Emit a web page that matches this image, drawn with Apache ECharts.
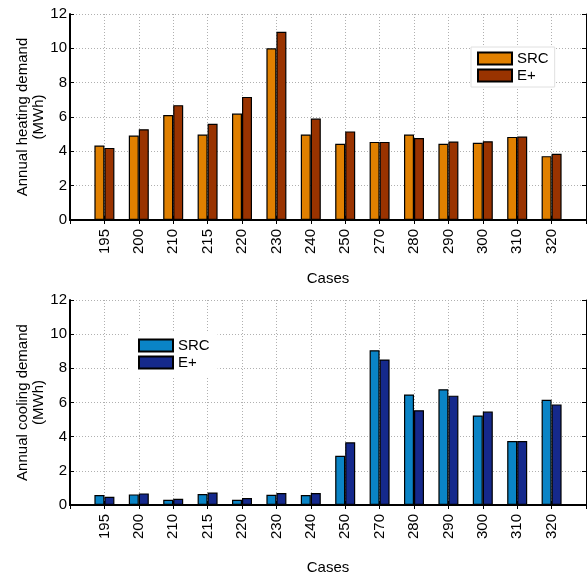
<!DOCTYPE html>
<html><head><meta charset="utf-8">
<script src="https://cdn.jsdelivr.net/npm/echarts@6/dist/echarts.min.js"></script>
<style>html,body{margin:0;padding:0;background:#fff}#c{width:587px;height:576px}</style>
</head><body><div id="c"></div>
<script>
const cases = ['195','200','210','215','220','230','240','250','270','280','290','300','310','320'];
const heatSRC = [4.34,4.92,6.12,4.98,6.20,10.00,4.98,4.44,4.55,4.98,4.44,4.50,4.84,3.72];
const heatEP  = [4.20,5.29,6.69,5.60,7.17,10.97,5.91,5.16,4.55,4.77,4.57,4.59,4.86,3.86];
const coolSRC = [0.58,0.62,0.31,0.64,0.31,0.60,0.58,2.88,9.06,6.47,6.78,5.24,3.75,6.16];
const coolEP  = [0.48,0.68,0.37,0.73,0.41,0.70,0.70,3.67,8.52,5.55,6.40,5.47,3.75,5.89];
const yTicks = [0,2,4,6,8,10,12];

const FONT = 'Liberation Sans';
const pad = a => [null, ...a, null];
const axisCats = ['', ...cases, ''];

function xAxes(gi, gap) {
  return [{
    type:'category', gridIndex:gi, data:axisCats, boundaryGap:false, position:'bottom',
    axisLine:{lineStyle:{color:'#000', width:2}},
    axisTick:{show:true, inside:true, length:4, interval:0, lineStyle:{color:'#000'}},
    axisLabel:{interval:0, rotate:90, color:'#000', fontSize:15, fontFamily:FONT, margin:9},
    splitLine:{show:true, interval:0, lineStyle:{color:'#b0b0b0', type:[1,2], width:1}},
    name:'Cases', nameLocation:'middle', nameGap:gap, nameMoveOverlap:false,
    nameTextStyle:{color:'#000', fontSize:15, fontFamily:FONT}
  },{
    type:'category', gridIndex:gi, data:axisCats, boundaryGap:false, position:'top',
    axisLine:{lineStyle:{color:'#000', width:1}},
    axisTick:{show:true, inside:true, length:4, interval:0, lineStyle:{color:'#000'}},
    axisLabel:{show:false}, splitLine:{show:false}
  }];
}
function yAxes(gi, name) {
  return [{
    type:'value', gridIndex:gi, min:yTicks[0], max:yTicks[yTicks.length-1], interval:2, position:'left',
    axisLine:{show:true, lineStyle:{color:'#000', width:2}},
    axisTick:{show:true, inside:true, length:4, lineStyle:{color:'#000'}},
    axisLabel:{color:'#000', fontSize:15, fontFamily:FONT, margin:3},
    splitLine:{show:true, lineStyle:{color:'#b0b0b0', type:[1,2], width:1}},
    name:name, nameLocation:'middle', nameRotate:90, nameGap:23, nameMoveOverlap:false,
    nameTextStyle:{color:'#000', fontSize:15, fontFamily:FONT, lineHeight:16, align:'center'}
  },{
    type:'value', gridIndex:gi, min:yTicks[0], max:yTicks[yTicks.length-1], interval:2, position:'right',
    axisLine:{show:true, lineStyle:{color:'#000', width:1}},
    axisTick:{show:true, inside:true, length:4, lineStyle:{color:'#000'}},
    axisLabel:{show:false}, splitLine:{show:false}
  }];
}
function bar(name, data, color, xi, yi) {
  return {type:'bar', name:name, data:pad(data), xAxisIndex:xi, yAxisIndex:yi,
    barWidth:10, barGap:'0%',
    itemStyle:{color:color, borderColor:'#000', borderWidth:1.2}, silent:true, animation:false};
}
const legendCommon = {orient:'vertical', itemWidth:34, itemHeight:12, itemGap:0, icon:'rect',
  backgroundColor:'#fff', selectedMode:false,
  textStyle:{color:'#000', fontSize:15, fontFamily:FONT, lineHeight:17},
  formatter: n => n.split('_')[0]};

const chart = echarts.init(document.getElementById('c'), null, {renderer:'canvas'});
chart.setOption({
  animation:false,
  grid:[{left:70, right:1, top:14, height:206}, {left:70, right:1, top:300, height:207}],
  xAxis:[...xAxes(0, 51), ...xAxes(1, 55)],
  yAxis:[...yAxes(0, 'Annual heating demand\n(MWh)'), ...yAxes(1, 'Annual cooling demand\n(MWh)')],
  legend:[
    Object.assign({}, legendCommon, {data:['SRC_h','E+_h'], left:471, top:47, padding:[3,6,3,6], borderColor:'#e0e0e0', borderWidth:1}),
    Object.assign({}, legendCommon, {data:['SRC_c','E+_c'], left:130, top:332, padding:[5,8,5,8]})
  ],
  series:[
    bar('SRC_h', heatSRC, '#e08000', 0, 0),
    bar('E+_h', heatEP, '#993300', 0, 0),
    bar('SRC_c', coolSRC, '#0a84c6', 2, 2),
    bar('E+_c', coolEP, '#15298c', 2, 2)
  ]
});
</script></body></html>
